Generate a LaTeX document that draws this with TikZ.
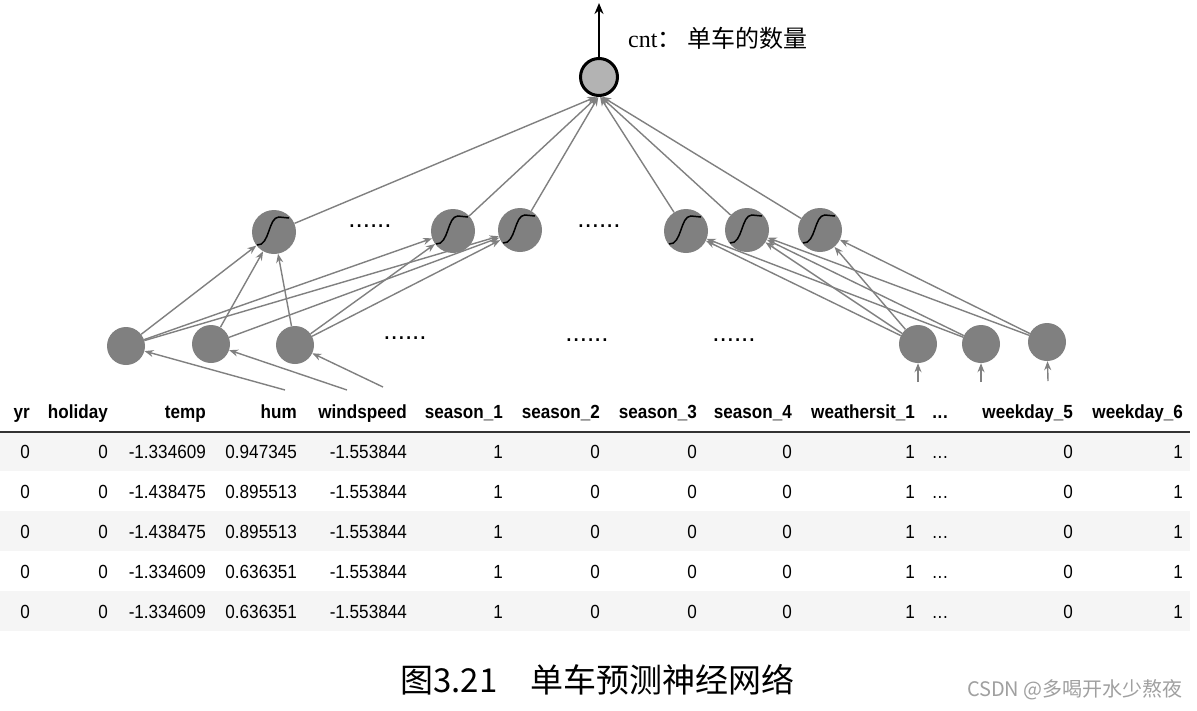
\documentclass[tikz,border=0pt]{standalone}
\usepackage{fontspec}
\setmainfont{Liberation Serif}
\newfontfamily\tabfont[FakeStretch=0.9]{Liberation Sans}
\newfontfamily\dotfont{Liberation Sans}
\newfontfamily\cjk{Noto Sans CJK SC}
\usetikzlibrary{arrows.meta}
\definecolor{ngray}{HTML}{808080}
\definecolor{ogray}{HTML}{B3B3B3}
\definecolor{stripe}{HTML}{F5F5F5}
\definecolor{rulec}{HTML}{333333}
\definecolor{wmark}{HTML}{A0A0A0}
\def\tdots{.\kern0.6pt.\kern0.6pt.}
\begin{document}
\begin{tikzpicture}[x=1pt,y=-1pt,
  inp/.style={circle,fill=ngray,minimum size=38pt,inner sep=0pt},
  hid/.style={circle,fill=ngray,minimum size=44pt,inner sep=0pt},
  outn/.style={circle,fill=ogray,draw=black,line width=3pt,minimum size=37pt,inner sep=0pt},
  conn/.style={draw=ngray,line width=1.4pt,-{Stealth[length=9pt,width=7pt]}},
  sig/.style={draw=black,line width=1.5pt},
  dots/.style={font=\dotfont\fontsize{26}{28}\selectfont,inner sep=0pt},
  hdr/.style={font=\tabfont\bfseries\fontsize{19}{22}\selectfont,anchor=base east,inner sep=0pt},
  cell/.style={font=\tabfont\fontsize{19}{22}\selectfont,anchor=base east,inner sep=0pt}
]
\useasboundingbox (0,0) rectangle (1197,710);
\fill[white] (0,0) rectangle (1197,710);

% ---------- table ----------
\fill[stripe] (0,432) rectangle (1190,471);
\fill[stripe] (0,511) rectangle (1190,551);
\fill[stripe] (0,591) rectangle (1190,631);
\draw[rulec,line width=2pt] (0,431.5) -- (1190,431.5);

\foreach \x/\t [count=\c] in {30/yr,108/holiday,206/temp,297/hum,407/windspeed,503/season\_1,600/season\_2,697/season\_3,792/season\_4,915/weathersit\_1,948/\tdots,1073/weekday\_5,1183/weekday\_6}
  \node[hdr] (hd-\c) at (\x,418) {\t};

\foreach \r/\y/\tp/\hm in {1/458/-1.334609/0.947345,2/498/-1.438475/0.895513,3/538/-1.438475/0.895513,4/578/-1.334609/0.636351,5/618/-1.334609/0.636351}
  \foreach \x/\v [count=\c] in {30/0,108/0,206/\tp,297/\hm,407/-1.553844,503/1,600/0,697/0,792/0,915/1,948/\tdots,1073/0,1183/1}
    \node[cell] (c-\r-\c) at (\x,\y) {\v};

% ---------- input layer ----------
\node[inp] (i1) at (126,346) {};
\node[inp] (i2) at (211,344) {};
\node[inp] (i3) at (295,345) {};
\node[inp] (i4) at (918,344) {};
\node[inp] (i5) at (981,344) {};
\node[inp] (i6) at (1047,342) {};
\node[dots] (d1) at (405,338) {......};
\node[dots] (d2) at (587,340) {......};
\node[dots] (d3) at (734,340) {......};

\coordinate (f1) at (285,390);
\coordinate (f2) at (347,390);
\coordinate (f3) at (383,387);
\coordinate (f4) at (918,382);
\coordinate (f5) at (981,382);
\coordinate (f6) at (1048,381);
\draw[conn] (f1) -- (i1);
\draw[conn] (f2) -- (i2);
\draw[conn] (f3) -- (i3);
\draw[conn] (f4) -- (i4);
\draw[conn] (f5) -- (i5);
\draw[conn] (f6) -- (i6);

% ---------- hidden layer ----------
\node[hid] (h1) at (274,232) {};
\node[hid] (h2) at (453,231) {};
\node[hid] (h3) at (520,230) {};
\node[hid] (h4) at (686,231) {};
\node[hid] (h5) at (747,230) {};
\node[hid] (h6) at (820,230) {};
\node[dots] (d4) at (370,226) {......};
\node[dots] (d5) at (599,226) {......};

\foreach \h in {h1,h2,h3,h4,h5,h6}
  \draw[sig,shift={(\h)}] (-17,13) .. controls (-4,14) and (-6,-15) .. (5,-15) -- (15,-14);

\draw[conn] (i1) -- (h1);
\draw[conn] (i1) -- (h2);
\draw[conn] (i1) -- (h3);
\draw[conn] (i2) -- (h1);
\draw[conn] (i2) -- (h3);
\draw[conn] (i3) -- (h1);
\draw[conn] (i3) -- (h2);
\draw[conn] (i3) -- (h3);
\draw[conn] (i4) -- (h4);
\draw[conn] (i4) -- (h5);
\draw[conn] (i4) -- (h6);
\draw[conn] (i5) -- (h4);
\draw[conn] (i5) -- (h5);
\draw[conn] (i6) -- (h5);
\draw[conn] (i6) -- (h6);

% ---------- output ----------
\node[outn] (out) at (599,77) {};
\foreach \h/\a in {h1/262,h2/265,h3/268,h4/273,h5/276,h6/279}
  \draw[conn] (\h) -- (out.\a);
\coordinate (top) at (599,3);
\draw[black,line width=2.5pt,-{Stealth[length=11pt,width=9pt]}] (out) -- (top);
\node[anchor=west,inner sep=0pt,font=\fontsize{24}{28}\selectfont] (lab) at (628,38) {cnt{\cjk：\hspace{6pt}单车的数量}};

% ---------- caption ----------
\node[anchor=west,inner sep=0pt,font=\cjk\fontsize{33}{38}\selectfont] (cap) at (400,680) {图3.21\hspace{1em}单车预测神经网络};
\node[anchor=east,inner sep=0pt,text=wmark,font=\cjk\fontsize{20}{22}\selectfont] (wm) at (1183,690) {CSDN @多喝开水少熬夜};
\end{tikzpicture}
\end{document}
